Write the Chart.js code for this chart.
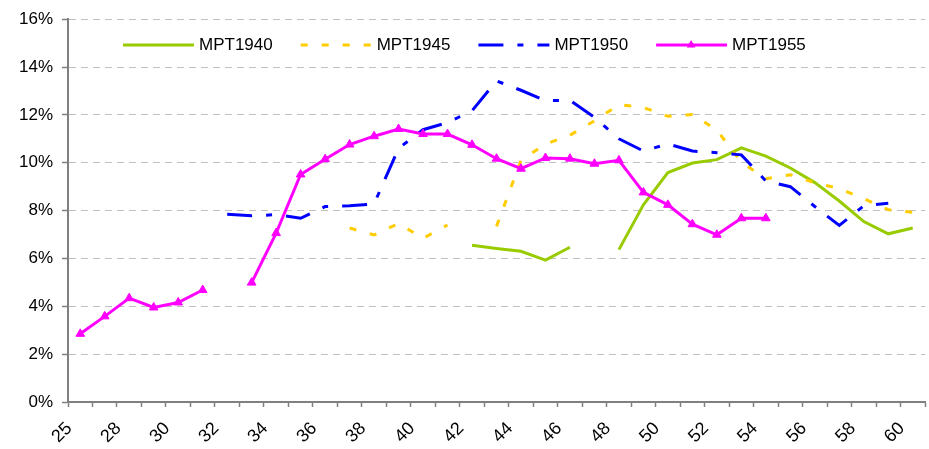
<!DOCTYPE html>
<html>
<head>
<meta charset="utf-8">
<script src="https://cdn.jsdelivr.net/npm/chart.js@4.4.1/dist/chart.umd.min.js"></script>
<style>
  html, body { margin: 0; padding: 0; overflow: hidden; background: #fff; }
  #wrap { width: 931px; height: 449px; }
</style>
</head>
<body>
<div id="wrap"><canvas id="mptChart" width="931" height="449"></canvas></div>
<script>
  const categories = ['25', '27', '28', '29', '30', '31', '32', '33', '34', '35', '36', '37', '38', '39', '40', '41', '42', '43',
    '44', '45', '46', '47', '48', '49', '50', '51', '52', '53', '54', '55', '56', '57', '58', '59', '60'];

  const mpt1940 = [null, null, null, null, null, null, null, null, null, null, null, null, null, null, null, null,
    6.55, 6.42, 6.30, 5.93, 6.47, null, 6.37, 8.24, 9.59, 9.99, 10.13, 10.62, 10.28, 9.78, 9.17, 8.40, 7.54, 7.03, 7.27];

  const mpt1945 = [null, null, null, null, null, null, null, null, null, null, null,
    7.27, 6.98, 7.46, 6.84, 7.40, null, 7.34, 10.10, 10.78, 11.15, 11.75, 12.43, 12.31, 11.94, 12.02, 11.36, 10.03,
    9.33, 9.50, 9.16, 8.92, 8.50, 8.04, 7.93];

  const mpt1950 = [null, null, null, null, null, null,
    7.85, 7.78, 7.83, 7.68, 8.17, 8.20, 8.28, 10.60, 11.38, 11.68, 12.17, 13.42, 13.03, 12.60, 12.61, 11.90, 11.00,
    10.49, 10.79, 10.49, 10.42, 10.33, 9.24, 9.00, 8.17, 7.38, 8.20, 8.31, null];

  const mpt1955 = [2.85, 3.58, 4.34, 3.95, 4.16, 4.68, null, 4.99, 7.06, 9.51, 10.15, 10.76, 11.11, 11.41, 11.20, 11.20,
    10.75, 10.17, 9.75, 10.20, 10.17, 9.96, 10.10, 8.76, 8.24, 7.43, 6.99, 7.68, 7.68, null, null, null, null, null, null];

  const font = '"Liberation Sans", Arial, sans-serif';

  // legend sits inside the plot area, so draw it by hand
  const innerLegend = {
    id: 'innerLegend',
    afterDraw(chart) {
      const ctx = chart.ctx;
      ctx.save();
      ctx.font = '17px ' + font;
      let x = 123;
      const lineY = 45;
      chart.data.datasets.forEach(ds => {
        ctx.strokeStyle = ds.borderColor;
        ctx.lineWidth = 3;
        ctx.setLineDash(ds.borderDash || []);
        ctx.beginPath();
        ctx.moveTo(x, lineY);
        ctx.lineTo(x + 71, lineY);
        ctx.stroke();
        ctx.setLineDash([]);
        if (ds.pointRadius) {
          const cx = x + 35, r = ds.pointRadius;
          ctx.fillStyle = ds.borderColor;
          ctx.beginPath();
          ctx.moveTo(cx, lineY - r);
          ctx.lineTo(cx + r * 0.866, lineY + r / 2);
          ctx.lineTo(cx - r * 0.866, lineY + r / 2);
          ctx.closePath();
          ctx.fill();
        }
        ctx.fillStyle = '#000';
        ctx.textBaseline = 'alphabetic';
        ctx.fillText(ds.label, x + 76, 49.5);
        x += 76 + ctx.measureText(ds.label).width + 28;
      });
      ctx.restore();
    }
  };

  const ctx = document.getElementById('mptChart').getContext('2d');

  const myChart = new Chart(ctx, {
    type: 'line',
    data: {
      labels: categories,
      datasets: [
        { label: 'MPT1940', data: mpt1940, borderColor: '#99CC00', borderWidth: 3, pointRadius: 0, order: 4 },
        { label: 'MPT1945', data: mpt1945, borderColor: '#FFCC00', borderWidth: 3, borderDash: [7, 14], pointRadius: 0, order: 3 },
        { label: 'MPT1950', data: mpt1950, borderColor: '#0000FF', borderWidth: 3, borderDash: [25, 14, 6, 14], pointRadius: 0, order: 2 },
        { label: 'MPT1955', data: mpt1955, borderColor: '#FF00FF', backgroundColor: '#FF00FF', borderWidth: 3,
          pointStyle: 'triangle', pointRadius: 5, pointBorderWidth: 1, order: 1 }
      ]
    },
    options: {
      responsive: false,
      animation: false,
      devicePixelRatio: 1,
      spanGaps: false,
      layout: { padding: { top: 16, right: 0, left: 0, bottom: 0 } },
      plugins: {
        legend: { display: false },
        tooltip: { enabled: false }
      },
      scales: {
        x: {
          offset: true,
          afterFit: (scale) => {
            scale.height = 47;
            scale.paddingLeft = 0;
            scale.paddingRight = 0;
          },
          grid: { drawOnChartArea: false, drawTicks: true, tickLength: 5, tickColor: '#808080', tickWidth: 1.5, offset: true },
          border: { color: '#808080', width: 2 },
          ticks: {
            autoSkip: false,
            maxRotation: 45,
            minRotation: 45,
            padding: 11,
            labelOffset: -11,
            color: '#000',
            font: { family: font, size: 18 },
            callback: (v, i) => (i % 2 === 0 ? categories[i] : '')
          }
        },
        y: {
          min: 0,
          max: 16,
          afterFit: (scale) => { scale.width = 68; },
          grid: { color: '#c0c0c0', lineWidth: 1, tickLength: 6, tickColor: '#808080', tickWidth: 1.5, tickBorderDash: [] },
          border: { color: '#808080', width: 2, dash: [7, 5] },
          ticks: {
            stepSize: 2,
            padding: 9,
            color: '#000',
            font: { family: font, size: 17 },
            callback: (v) => v + '%'
          }
        }
      }
    },
    plugins: [innerLegend]
  });
</script>
</body>
</html>
